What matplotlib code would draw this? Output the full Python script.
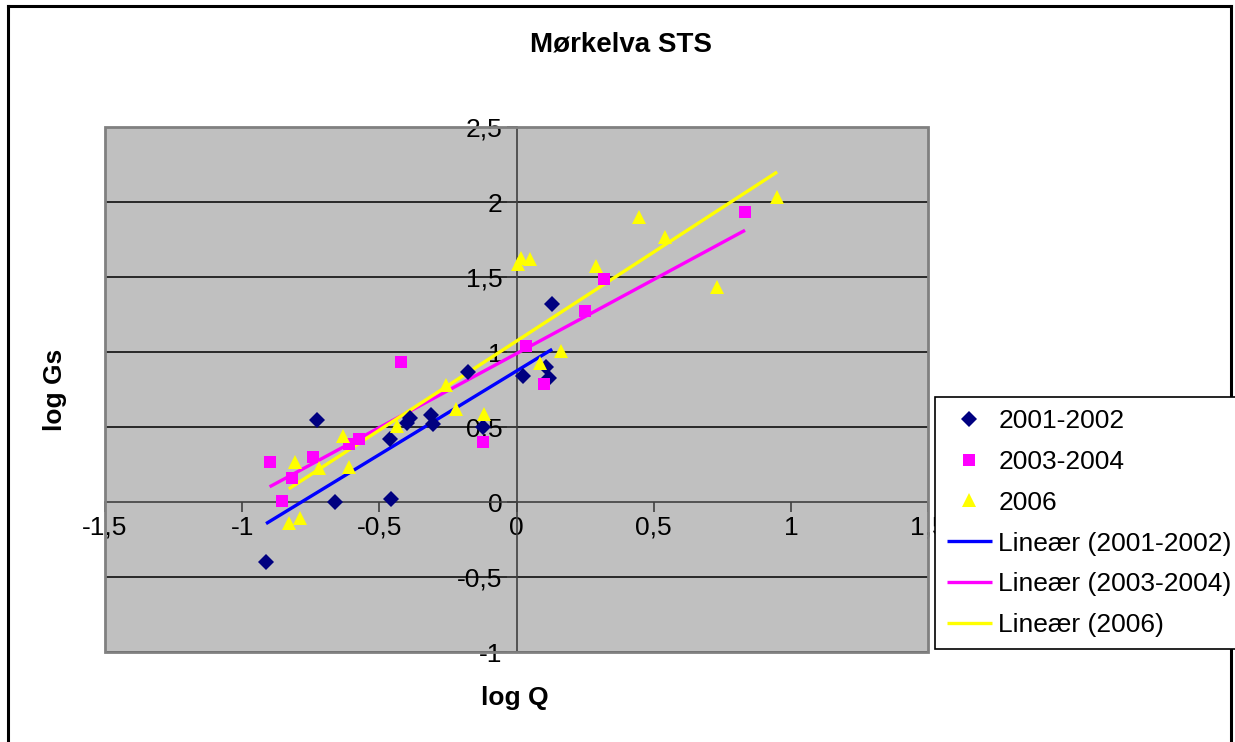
import numpy as np
import matplotlib
matplotlib.use("Agg")
import matplotlib.pyplot as plt
from matplotlib.lines import Line2D
from matplotlib.patches import Rectangle

plt.rcParams['font.family'] = ['Liberation Sans', 'DejaVu Sans']

title = "Mørkelva STS"
xlabel = "log Q"
ylabel = "log Gs"

x_0102 = [-0.913, -0.727, -0.661, -0.456, -0.46, -0.40, -0.39, -0.313, -0.304, -0.177, -0.122, 0.024, 0.108, 0.12, 0.13]
y_0102 = [-0.40, 0.55, 0.0, 0.02, 0.42, 0.53, 0.56, 0.58, 0.52, 0.87, 0.50, 0.84, 0.90, 0.83, 1.32]

x_0304 = [-0.90, -0.856, -0.818, -0.743, -0.61, -0.573, -0.42, -0.122, 0.035, 0.102, 0.251, 0.32, 0.833]
y_0304 = [0.27, 0.01, 0.16, 0.30, 0.385, 0.42, 0.935, 0.40, 1.04, 0.79, 1.273, 1.49, 1.935]

x_2006 = [-0.83, -0.79, -0.807, -0.72, -0.634, -0.61, -0.437, -0.258, -0.22, -0.119, 0.006, 0.018, 0.051, 0.084, 0.164, 0.29, 0.447, 0.54, 0.732, 0.95]
y_2006 = [-0.14, -0.105, 0.265, 0.23, 0.44, 0.235, 0.505, 0.78, 0.62, 0.59, 1.585, 1.63, 1.62, 0.93, 1.01, 1.575, 1.90, 1.77, 1.435, 2.035]

series_labels = ["2001-2002", "2003-2004", "2006"]
trend_labels = ["Lineær (2001-2002)", "Lineær (2003-2004)", "Lineær (2006)"]
xticks = [-1.5, -1, -0.5, 0, 0.5, 1, 1.5]
xtick_labels = ["-1,5", "-1", "-0,5", "0", "0,5", "1", "1,5"]
yticks = [-1, -0.5, 0, 0.5, 1, 1.5, 2, 2.5]
ytick_labels = ["-1", "-0,5", "0", "0,5", "1", "1,5", "2", "2,5"]

W, H = 1235, 742
fig = plt.figure(figsize=(W/100, H/100), dpi=100)
fig.patch.set_facecolor('white')

# outer chart border (left, top, right)
fig.add_artist(Line2D([8/W, 8/W], [0, 1-6/H], transform=fig.transFigure, color='black', lw=2.2))
fig.add_artist(Line2D([8/W, 1231/W], [1-6/H, 1-6/H], transform=fig.transFigure, color='black', lw=2.2))
fig.add_artist(Line2D([1231/W, 1231/W], [0, 1-6/H], transform=fig.transFigure, color='black', lw=2.2))

left, right, top, bottom = 105, 928, 127, 652
ax = fig.add_axes([left/W, 1-bottom/H, (right-left)/W, (bottom-top)/H])
ax.set_facecolor('#C0C0C0')
ax.set_xlim(-1.5, 1.5)
ax.set_ylim(-1, 2.5)

for s in ['top', 'right']:
    ax.spines[s].set_visible(False)
ax.spines['left'].set_position(('data', 0))
ax.spines['bottom'].set_position(('data', 0))
ax.spines['left'].set_color('#404040')
ax.spines['bottom'].set_color('#404040')
ax.spines['left'].set_linewidth(1.2)
ax.spines['bottom'].set_linewidth(1.2)
ax.add_patch(Rectangle((0, 0), 1, 1, transform=ax.transAxes, fill=False,
                       edgecolor='#808080', lw=2, zorder=5, clip_on=False))

for yv in yticks:
    if yv != 0:
        ax.axhline(yv, color='black', lw=1.1, zorder=1)

ax.set_xticks(xticks)
ax.set_xticklabels(xtick_labels)
ax.set_yticks(yticks)
ax.set_yticklabels(ytick_labels)
ax.tick_params(axis='both', direction='out', length=7, width=1.2, color='#404040',
               labelsize=19)
ax.tick_params(axis='y', pad=3)
ax.tick_params(axis='x', pad=3)

markers = [('D', '#000080', 8.5), ('s', '#FF00FF', 8.2), ('^', '#FFFF00', 10)]
line_colors = ['#0000FF', '#FF00FF', '#FFFF00']
datasets = [(x_0102, y_0102), (x_0304, y_0304), (x_2006, y_2006)]

handles = []
for (xs, ys), (m, c, ms), lab in zip(datasets, markers, series_labels):
    h, = ax.plot(xs, ys, linestyle='none', marker=m, color=c, markersize=ms,
                 markeredgewidth=0, label=lab, zorder=4)
    handles.append(h)
for (xs, ys), lc, lab in zip(datasets, line_colors, trend_labels):
    k, b = np.polyfit(xs, ys, 1)
    xx = np.array([min(xs), max(xs)])
    h, = ax.plot(xx, k*xx + b, color=lc, lw=2.4, label=lab, zorder=3, solid_capstyle='butt')
    handles.append(h)

fig.text(621/W, 1-45/H, title, ha='center', va='center', fontsize=20, fontweight='bold')
fig.text(515/W, 1-698/H, xlabel, ha='center', va='center', fontsize=19, fontweight='bold')
fig.text(55/W, 1-390/H, ylabel, ha='center', va='center', fontsize=19, fontweight='bold', rotation=90)

leg = fig.legend(handles=handles, loc='upper left', bbox_to_anchor=(935/W, 1-397/H),
                 fontsize=19, frameon=True, fancybox=False, framealpha=1,
                 edgecolor='black', handlelength=1.7, handletextpad=0.25,
                 labelspacing=0.64, borderpad=0.45, borderaxespad=0)
leg.get_frame().set_linewidth(1.2)

fig.savefig('out.png', dpi=100, facecolor='white')
